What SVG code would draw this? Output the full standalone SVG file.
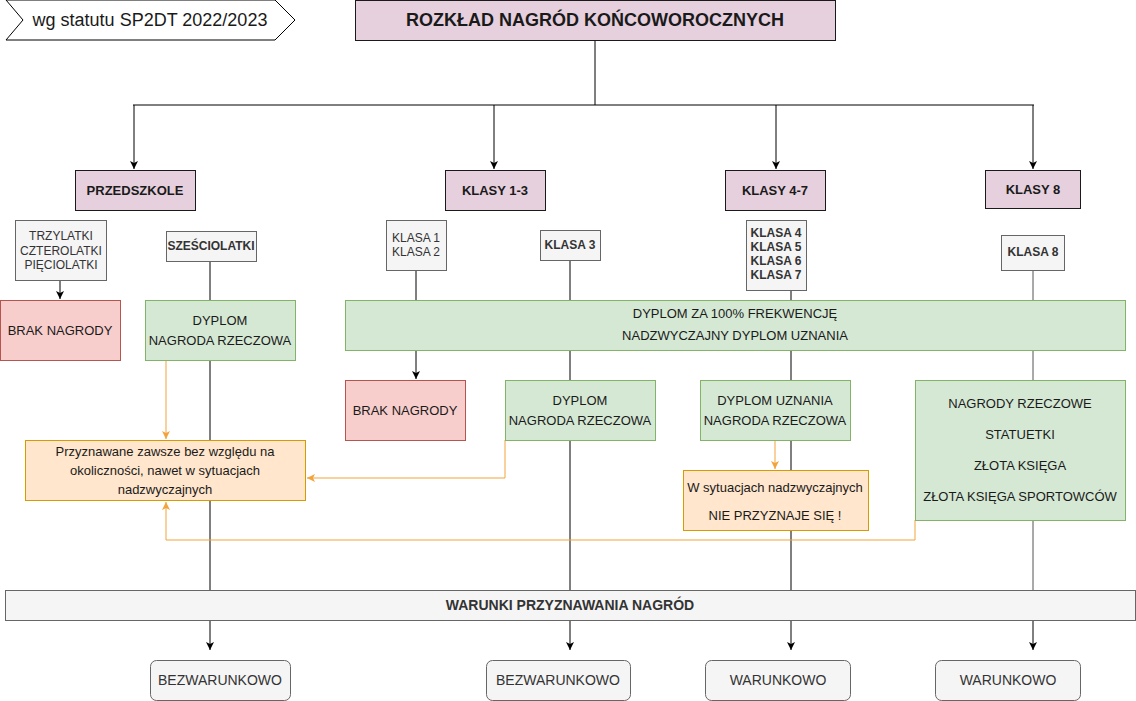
<svg xmlns="http://www.w3.org/2000/svg" width="1136" height="701" viewBox="0 0 1136 701">
<style>
text{font-family:"Liberation Sans",Arial,sans-serif;text-anchor:middle;dominant-baseline:central;font-size:13px;fill:#1a1a1a}
.pink{fill:#e6d0de;stroke:#1a1a1a;stroke-width:1}
.grey{fill:#f5f5f5;stroke:#666;stroke-width:1}
.red{fill:#f8cecc;stroke:#b85450;stroke-width:1}
.green{fill:#d5e8d4;stroke:#82b366;stroke-width:1}
.orange{fill:#ffe6cc;stroke:#d79b00;stroke-width:1}
.b{font-weight:bold}
.g{fill:#333}
.s11{font-size:12px}
.big{font-size:18px}
.s14{font-size:14px}
.ln{fill:none;stroke:#000;stroke-width:1}
.lg{fill:none;stroke:#555;stroke-width:1}
.lo{fill:none;stroke:#f2a33a;stroke-width:1}
</style>
<defs>
<marker id="ab" markerUnits="userSpaceOnUse" markerWidth="10" markerHeight="10" refX="8" refY="4" orient="auto" viewBox="0 0 10 8">
<path d="M0,0 L8,4 L0,8 L2,4 Z" fill="#000"/>
</marker>
<marker id="ao" markerUnits="userSpaceOnUse" markerWidth="10" markerHeight="10" refX="8" refY="4" orient="auto" viewBox="0 0 10 8">
<path d="M0,0 L8,4 L0,8 L2,4 Z" fill="#f2a33a"/>
</marker>
</defs>
<rect width="1136" height="701" fill="#fff"/>

<g id="connectors">
<path class="ln" d="M595,40 V105 M133,105 H1034"/>
<path class="ln" d="M134,105 V169" marker-end="url(#ab)"/>
<path class="ln" d="M494,105 V169" marker-end="url(#ab)"/>
<path class="ln" d="M776,105 V169" marker-end="url(#ab)"/>
<path class="ln" d="M1033,105 V169" marker-end="url(#ab)"/>
<path class="ln" d="M60,281 V299" marker-end="url(#ab)"/>
<path class="ln" d="M210,261 V300 M210,360 V590"/>
<path class="ln" d="M416,270 V300"/>
<path class="ln" d="M416,350 V379" marker-end="url(#ab)"/>
<path class="ln" d="M570,260 V590"/>
<path class="ln" d="M791,290 V590"/>
<path class="lg" d="M1033,270 V590"/>
<path class="ln" d="M210,620 V650" marker-end="url(#ab)"/>
<path class="ln" d="M570,620 V650" marker-end="url(#ab)"/>
<path class="ln" d="M791,620 V650" marker-end="url(#ab)"/>
<path class="ln" d="M1033,620 V650" marker-end="url(#ab)"/>
<path class="lo" d="M166,360 V439" marker-end="url(#ao)"/>
<path class="lo" d="M505,440 V478 H307" marker-end="url(#ao)"/>
<path class="lo" d="M915,520 V540 H166 V502" marker-end="url(#ao)"/>
<path class="lo" d="M775,440 V469" marker-end="url(#ao)"/>
</g>

<g id="banner">
<polygon points="6,0 275,0 295,20 275,40 6,40 23,20" fill="#fff" stroke="#000"/>
<text class="big" x="150" y="20">wg statutu SP2DT 2022/2023</text>
</g>
<g id="title">
<rect class="pink" x="355.5" y="0.5" width="480" height="40"/>
<text class="b big" x="595" y="20">ROZKŁAD NAGRÓD KOŃCOWOROCZNYCH</text>
</g>

<g id="przedszkole"><rect class="pink" x="75.5" y="170.5" width="120" height="40"/><text class="b" x="135" y="190">PRZEDSZKOLE</text></g>
<g id="klasy13"><rect class="pink" x="445.5" y="170.5" width="100" height="40"/><text class="b" x="495" y="190">KLASY 1-3</text></g>
<g id="klasy47"><rect class="pink" x="725.5" y="170.5" width="100" height="40"/><text class="b" x="775" y="190">KLASY 4-7</text></g>
<g id="klasy8"><rect class="pink" x="985.5" y="170.5" width="95" height="38"/><text class="b" x="1033" y="189">KLASY 8</text></g>

<g id="trzylatki"><rect class="grey" x="15.5" y="220.5" width="91" height="60"/>
<text class="g s11" x="61" y="236">TRZYLATKI</text><text class="g s11" x="61" y="250.5">CZTEROLATKI</text><text class="g s11" x="61" y="265">PIĘCIOLATKI</text></g>
<g id="szesciolatki"><rect class="grey" x="166.5" y="231.5" width="90" height="30"/><text class="g s11 b" x="211" y="246">SZEŚCIOLATKI</text></g>
<g id="klasa12"><rect class="grey" x="386.5" y="220.5" width="60" height="50"/>
<text class="g s11" x="416" y="238">KLASA 1</text><text class="g s11" x="416" y="252">KLASA 2</text></g>
<g id="klasa3"><rect class="grey" x="540.5" y="230.5" width="60" height="30"/><text class="g s11 b" x="570" y="245">KLASA 3</text></g>
<g id="klasa47"><rect class="grey" x="746.5" y="220.5" width="60" height="70"/>
<text class="g s11 b" x="776" y="233">KLASA 4</text><text class="g s11 b" x="776" y="247">KLASA 5</text><text class="g s11 b" x="776" y="261">KLASA 6</text><text class="g s11 b" x="776" y="275">KLASA 7</text></g>
<g id="klasa8"><rect class="grey" x="1001.5" y="235.5" width="63" height="35"/><text class="g s11 b" x="1033" y="252">KLASA 8</text></g>

<g id="brak1"><rect class="red" x="0.5" y="300.5" width="120" height="60"/><text x="60" y="330">BRAK NAGRODY</text></g>
<g id="dyplom1"><rect class="green" x="145.5" y="300.5" width="150" height="60"/><text x="220" y="320">DYPLOM</text><text x="220" y="340">NAGRODA RZECZOWA</text></g>
<g id="frekwencja"><rect class="green" x="345.5" y="300.5" width="780" height="50"/>
<text x="735" y="313">DYPLOM ZA 100% FREKWENCJĘ</text><text x="735" y="335">NADZWYCZAJNY DYPLOM UZNANIA</text></g>

<g id="brak2"><rect class="red" x="345.5" y="380.5" width="120" height="60"/><text x="405" y="410">BRAK NAGRODY</text></g>
<g id="dyplom2"><rect class="green" x="505.5" y="380.5" width="150" height="60"/><text x="580" y="400">DYPLOM</text><text x="580" y="420">NAGRODA RZECZOWA</text></g>
<g id="dyplomuznania"><rect class="green" x="700.5" y="380.5" width="150" height="60"/><text x="775" y="400">DYPLOM UZNANIA</text><text x="775" y="420">NAGRODA RZECZOWA</text></g>
<g id="nagrody8"><rect class="green" x="915.5" y="380.5" width="210" height="140"/>
<text x="1020" y="403">NAGRODY RZECZOWE</text><text x="1020" y="434">STATUETKI</text><text x="1020" y="465">ZŁOTA KSIĘGA</text><text x="1020" y="496">ZŁOTA KSIĘGA SPORTOWCÓW</text></g>

<g id="przyznawane"><rect class="orange" x="25.5" y="440.5" width="280" height="60"/>
<text x="165" y="451">Przyznawane zawsze bez względu na</text><text x="165" y="470">okoliczności, nawet w sytuacjach</text><text x="165" y="489">nadzwyczajnych</text></g>
<g id="nieprzyznaje"><rect class="orange" x="683.5" y="470.5" width="185" height="60"/>
<text x="775" y="487">W sytuacjach nadzwyczajnych</text><text x="775" y="515">NIE PRZYZNAJE SIĘ !</text></g>

<g id="warunki"><rect class="grey" x="5.5" y="590.5" width="1130" height="30"/><text class="g b s14" x="570" y="605">WARUNKI PRZYZNAWANIA NAGRÓD</text></g>

<g id="bez1"><rect class="grey" x="150.5" y="660.5" width="140" height="40" rx="6"/><text class="g s14" x="220" y="680">BEZWARUNKOWO</text></g>
<g id="bez2"><rect class="grey" x="486.5" y="660.5" width="144" height="40" rx="6"/><text class="g s14" x="558" y="680">BEZWARUNKOWO</text></g>
<g id="war1"><rect class="grey" x="705.5" y="660.5" width="145" height="40" rx="6"/><text class="g s14" x="778" y="680">WARUNKOWO</text></g>
<g id="war2"><rect class="grey" x="935.5" y="660.5" width="145" height="40" rx="6"/><text class="g s14" x="1008" y="680">WARUNKOWO</text></g>
</svg>
